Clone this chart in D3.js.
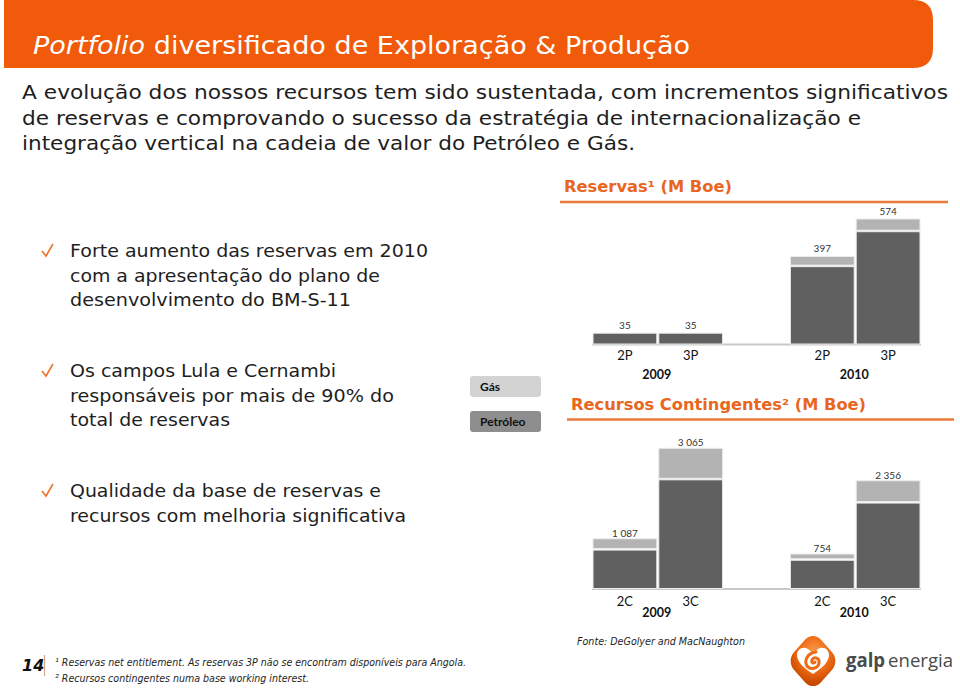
<!DOCTYPE html>
<html><head><meta charset="utf-8">
<script src="https://cdn.jsdelivr.net/npm/d3@7"></script>
<style>
html,body{margin:0;padding:0;background:#fff;}
svg{display:block;}
</style></head>
<body>
<svg id="c" width="960" height="694"></svg>
<script>
// ---------- DATA ----------
const years = ["2009", "2010"];
const reservYear = ["2009", "2009", "2010", "2010"];
const reservCats = ["2P", "3P", "2P", "3P"];
const reservOil = [35, 35, 349, 514];
const reservGas = [0, 0, 48, 60];
const reservLabels = ["35", "35", "397", "574"];

const contYear = ["2009", "2009", "2010", "2010"];
const contCats = ["2C", "3C", "2C", "3C"];
const contOil = [840, 2376, 617, 1868];
const contGas = [247, 689, 137, 488];
const contLabels = ["1 087", "3 065", "754", "2 356"];

const legendLabels = ["Gás", "Petróleo"];

const titleText = ["Portfolio", " diversificado de Exploração & Produção"];
const introLines = [
  "A evolução dos nossos recursos tem sido sustentada, com incrementos significativos",
  "de reservas e comprovando o sucesso da estratégia de internacionalização e",
  "integração vertical na cadeia de valor do Petróleo e Gás."
];
const bullets = [
  ["Forte aumento das reservas em 2010", "com a apresentação do plano de", "desenvolvimento do BM-S-11"],
  ["Os campos Lula e Cernambi", "responsáveis por mais de 90% do", "total de reservas"],
  ["Qualidade da base de reservas e", "recursos com melhoria significativa"]
];
const footnotes = [
  "¹ Reservas net entitlement. As reservas 3P não se encontram disponíveis para Angola.",
  "² Recursos contingentes numa base working interest."
];

// ---------- DRAW ----------
const svg = d3.select("#c");
const ORANGE = "#f05a0a";
const TXT = "#1e1e1e";
const SANS = "'DejaVu Sans', Verdana, sans-serif";
const CAL = "Lato, 'Open Sans', sans-serif";

function fit(sel, w) { if (w) sel.attr("textLength", w).attr("lengthAdjust", "spacingAndGlyphs"); return sel; }

// header band
svg.append("path")
  .attr("d", "M4,0 H913 Q933,0 933,20 V48 Q933,68 913,68 H4 Z")
  .attr("fill", ORANGE);
const tt = svg.append("text").attr("x", 33).attr("y", 54)
  .attr("font-family", "'DejaVu Sans Condensed', 'DejaVu Sans', sans-serif")
  .attr("font-size", 24).attr("fill", "#fff");
tt.append("tspan").attr("font-style", "italic").text(titleText[0]);
tt.append("tspan").text(titleText[1]);
fit(tt, 657);

// intro text
const introW = [926, 839, 613];
introLines.forEach((l, i) => {
  fit(svg.append("text").attr("x", 22).attr("y", 99 + i * 25.5)
    .attr("font-family", SANS).attr("font-size", 19.5).attr("fill", TXT).text(l), introW[i]);
});

// bullets
const bulletY = [257, 377, 497];
const bulletW = [[358, 310, 281], [266, 324, 160], [311, 336]];
bullets.forEach((b, bi) => {
  const y0 = bulletY[bi];
  svg.append("path")
    .attr("d", `M${42},${y0 - 6} L${46},${y0 - 1} L${53},${y0 - 13}`)
    .attr("fill", "none").attr("stroke", "#e8742a").attr("stroke-width", 1.6);
  b.forEach((l, i) => {
    fit(svg.append("text").attr("x", 70).attr("y", y0 + i * 24.6)
      .attr("font-family", SANS).attr("font-size", 17.5).attr("fill", TXT).text(l), bulletW[bi][i]);
  });
});

// legend
const legFill = ["#d3d3d3", "#8e8e8e"];
legendLabels.forEach((l, i) => {
  const y = 376 + i * 35;
  svg.append("rect").attr("x", 470).attr("y", y).attr("width", 71).attr("height", 21)
    .attr("rx", 3).attr("fill", legFill[i]);
  svg.append("text").attr("x", 480).attr("y", y + 15)
    .attr("font-family", CAL).attr("font-weight", 700).attr("font-size", 12).attr("fill", "#111").text(l);
});

// shared x scales
const xYear = d3.scaleBand().domain(years).range([592, 921]).paddingInner(1 / 3).paddingOuter(0);
const xCat = d3.scaleBand().domain(["A", "B"]).range([0, xYear.bandwidth()]);
function catKey(i) { return i % 2 === 0 ? "A" : "B"; }

function drawChart(cfg) {
  const g = svg.append("g");
  // title
  const t = g.append("text").attr("x", cfg.titleX).attr("y", cfg.titleY)
    .attr("font-family", SANS).attr("font-weight", 700).attr("font-size", 15).attr("fill", "#e8661e");
  t.text(cfg.title);
  fit(t, cfg.titleW);
  g.append("line").attr("x1", cfg.lineX1).attr("x2", cfg.lineX2)
    .attr("y1", cfg.lineY).attr("y2", cfg.lineY).attr("stroke", "#ec7a3a").attr("stroke-width", 2.5);

  const y = cfg.y;
  const base = cfg.base;
  // baseline
  g.append("line").attr("x1", 592).attr("x2", 921).attr("y1", base + 0.5).attr("y2", base + 0.5)
    .attr("stroke", "#c9c9c9").attr("stroke-width", 2);

  cfg.oil.forEach((v, i) => {
    const x0 = xYear(cfg.year[i]) + xCat(catKey(i));
    const w = xCat.bandwidth();
    const oilTop = y(v);
    const gasTop = y(v + cfg.gas[i]);
    g.append("rect").attr("x", x0 + 1).attr("y", oilTop).attr("width", w - 2).attr("height", base - oilTop)
      .attr("fill", "#606060").attr("stroke", "#ececec").attr("stroke-width", 1);
    if (cfg.gas[i] > 0) {
      g.append("rect").attr("x", x0 + 1).attr("y", gasTop).attr("width", w - 2).attr("height", oilTop - gasTop - 1.5)
        .attr("fill", "#b3b3b3").attr("stroke", "#ececec").attr("stroke-width", 1);
    }
    g.append("text").attr("x", x0 + w / 2).attr("y", gasTop - cfg.labOff)
      .attr("text-anchor", "middle").attr("font-family", CAL).attr("font-size", 10).attr("fill", "#333")
      .text(cfg.labels[i]);
    g.append("text").attr("x", x0 + w / 2).attr("y", cfg.catY)
      .attr("text-anchor", "middle").attr("font-family", CAL).attr("font-size", 13).attr("fill", "#111")
      .text(cfg.cats[i]);
  });
  years.forEach(yr => {
    g.append("text").attr("x", xYear(yr) + xYear.bandwidth() / 2 - 1).attr("y", cfg.yearY)
      .attr("text-anchor", "middle").attr("font-family", CAL).attr("font-weight", 700).attr("font-size", 12.5)
      .attr("fill", "#111").text(yr);
  });
}

drawChart({
  title: "Reservas¹ (M Boe)", titleX: 564, titleY: 192, titleW: 168,
  lineX1: 560, lineX2: 948, lineY: 202,
  base: 344, y: d3.scaleLinear().domain([0, 574]).range([340.6, 219]),
  year: reservYear, cats: reservCats, oil: reservOil, gas: reservGas, labels: reservLabels,
  labOff: 4, catY: 360, yearY: 378.5
});
drawChart({
  title: "Recursos Contingentes² (M Boe)", titleX: 571, titleY: 410, titleW: 295,
  lineX1: 567, lineX2: 954, lineY: 419.5,
  base: 588.5, y: d3.scaleLinear().domain([0, 3065]).range([588.5, 448.3]),
  year: contYear, cats: contCats, oil: contOil, gas: contGas, labels: contLabels,
  labOff: 2, catY: 605.5, yearY: 617
});

// source
fit(svg.append("text").attr("x", 577).attr("y", 645).attr("font-family", SANS).attr("font-style", "italic")
  .attr("font-size", 10).attr("fill", TXT).text("Fonte: DeGolyer and MacNaughton"), 168);

// footer
svg.append("text").attr("x", 22).attr("y", 671).attr("font-family", SANS).attr("font-weight", 700)
  .attr("font-style", "italic").attr("font-size", 16).attr("fill", "#111").text("14");
svg.append("line").attr("x1", 44.5).attr("x2", 44.5).attr("y1", 655).attr("y2", 676)
  .attr("stroke", "#d8a488").attr("stroke-width", 1.2);
const fnW = [411, 254];
footnotes.forEach((f, i) => {
  fit(svg.append("text").attr("x", 55).attr("y", 666 + i * 15.5).attr("font-family", SANS)
    .attr("font-style", "italic").attr("font-size", 10).attr("fill", TXT).text(f), fnW[i]);
});

// logo
const defs = svg.append("defs");
const grad = defs.append("radialGradient").attr("id", "lg").attr("cx", "40%").attr("cy", "35%").attr("r", "70%");
grad.append("stop").attr("offset", "0%").attr("stop-color", "#f7a050");
grad.append("stop").attr("offset", "60%").attr("stop-color", "#ef6a14");
grad.append("stop").attr("offset", "100%").attr("stop-color", "#c84a00");
const logo = svg.append("g").attr("transform", "translate(813,661)");
logo.append("rect").attr("x", -19).attr("y", -19).attr("width", 38).attr("height", 38).attr("rx", 11)
  .attr("fill", "url(#lg)").attr("transform", "scale(1,1.12) rotate(45)");
logo.append("path")
  .attr("d", "M0,13 C-9,7 -16,1 -16,-6 C-16,-12 -10,-15 -5,-12 L0,-8 L5,-12 C10,-15 16,-12 16,-6 C16,1 9,7 0,13 Z")
  .attr("fill", "#fff");
logo.append("path")
  .attr("d", "M3,-9 C-6,-8 -9,0 -6,5 C-3,9 5,8 6,2 C7,-3 1,-5 -1,-1 C-2,2 1,3 2,1")
  .attr("fill", "none").attr("stroke", "#ef6a14").attr("stroke-width", 3).attr("stroke-linecap", "round");
const lt = svg.append("text").attr("x", 846).attr("y", 667).attr("font-family", "'Open Sans', sans-serif")
  .attr("font-size", 19).attr("fill", "#4a4a4a");
lt.append("tspan").attr("font-weight", 700).text("galp");
lt.append("tspan").attr("dx", 3).text("energia");
fit(lt, 107);
</script>
</body></html>
